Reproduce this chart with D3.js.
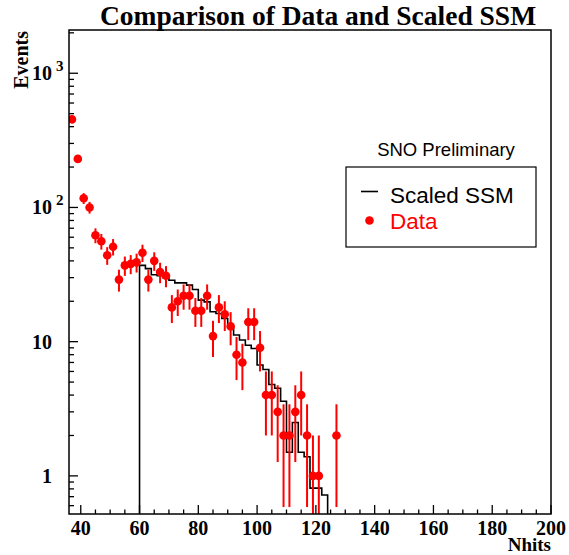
<!DOCTYPE html>
<html>
<head>
<meta charset="utf-8">
<script src="https://cdn.jsdelivr.net/npm/d3@7"></script>
<style>
  html, body { margin: 0; padding: 0; background: #fff; }
  svg { display: block; }
</style>
</head>
<body>
<svg id="chart" width="569" height="555"></svg>
<script>
// ---- data ----
const dataNhits = [37,39,41,43,45,47,49,51,53,55,57,59,61,63,65,67,69,71,73,75,77,79,81,83,85,87,89,91,93,95,97,99,101,103,105,107,109,111,113,115,117,119,121,127];
const dataEvents = [453,230,117,100,62,56,44,51,29,37,38,39,46,29,40,33,31,18,20,22,22,17,17,22,11,18,16,13,8,7,14,14,9,4,4,3,2,2,3,4,2,1,1,2];

const ssmBinLow = [60,62,64,66,68,70,72,74,76,78,80,82,84,86,88,90,92,94,96,98,100,102,104,106,108,110,112,114,116,118,120,122];
const ssmValues = [37,35,31.5,31,30,28.7,27.4,27.4,26.4,24.5,20.4,19.8,16.7,16.2,14.9,12.9,11.2,10.3,9.4,8.9,6.7,6.2,4.8,4.5,3.6,1.5,2.5,1.5,1.39,0.81,0.81,0.72];
const ssmBinWidth = 2;

const xMajorTicks = [40,60,80,100,120,140,160,180,200];
const yMajorTicks = [1,10,100,1000];
const yTickLabels = [{base:"1", exp:""},{base:"10", exp:""},{base:"10", exp:"2"},{base:"10", exp:"3"}];

const titleText = "Comparison of Data and Scaled SSM";
const xTitle = "Nhits";
const yTitle = "Events";
const legendHeader = "SNO Preliminary";
const legendEntries = ["Scaled SSM", "Data"];

// ---- layout ----
const frame = {left: 69, right: 551, top: 30, bottom: 514};
const svg = d3.select("#chart");
const serif = "'Liberation Serif','Times New Roman',serif";
const sans = "'Liberation Sans',Arial,sans-serif";

const x = d3.scaleLinear().domain([36, 200]).range([frame.left, frame.right]);
const y = d3.scaleLog().domain([0.52, 2100]).range([frame.bottom, frame.top]);

// title
svg.append("text").attr("x", 318).attr("y", 25)
  .attr("text-anchor", "middle").attr("font-family", serif)
  .attr("font-weight", "bold").attr("font-size", 27.5).text(titleText);

svg.append("defs").append("clipPath").attr("id", "clip")
  .append("rect").attr("x", frame.left).attr("y", frame.top)
  .attr("width", frame.right - frame.left).attr("height", frame.bottom - frame.top);

const plot = svg.append("g").attr("clip-path", "url(#clip)");

// SSM histogram (step outline)
const pts = [];
pts.push([x(ssmBinLow[0]), frame.bottom]);
ssmBinLow.forEach((lo, i) => {
  pts.push([x(lo), y(ssmValues[i])]);
  pts.push([x(lo + ssmBinWidth), y(ssmValues[i])]);
});
pts.push([x(ssmBinLow[ssmBinLow.length - 1] + ssmBinWidth), frame.bottom]);
plot.append("path").attr("d", d3.line()(pts))
  .attr("fill", "none").attr("stroke", "#000").attr("stroke-width", 1.6);

// data error bars and markers
const red = "#ff0000";
dataNhits.forEach((n, i) => {
  const v = dataEvents[i];
  const e = Math.sqrt(v);
  const lo = Math.max(v - e, 0.3);
  plot.append("line").attr("x1", x(n)).attr("x2", x(n))
    .attr("y1", y(lo)).attr("y2", y(v + e))
    .attr("stroke", red).attr("stroke-width", 2);
});
plot.selectAll("circle.pt").data(dataNhits).enter().append("circle")
  .attr("class", "pt")
  .attr("cx", d => x(d)).attr("cy", (d, i) => y(dataEvents[i]))
  .attr("r", 4.3).attr("fill", red);

// frame
svg.append("rect").attr("x", frame.left).attr("y", frame.top)
  .attr("width", frame.right - frame.left).attr("height", frame.bottom - frame.top)
  .attr("fill", "none").attr("stroke", "#000").attr("stroke-width", 1.5);

// x ticks
const xMinor = d3.range(40, 201, 5).filter(v => !xMajorTicks.includes(v));
const axG = svg.append("g").attr("stroke", "#000").attr("stroke-width", 1.3);
xMajorTicks.forEach(v => axG.append("line").attr("x1", x(v)).attr("x2", x(v)).attr("y1", frame.bottom).attr("y2", frame.bottom - 9));
xMinor.forEach(v => axG.append("line").attr("x1", x(v)).attr("x2", x(v)).attr("y1", frame.bottom).attr("y2", frame.bottom - 4.5));

xMajorTicks.forEach(v => {
  svg.append("text").attr("x", x(v)).attr("y", 535).attr("text-anchor", "middle")
    .attr("font-family", serif).attr("font-weight", "bold").attr("font-size", 20).text(v);
});

// y ticks
const [ylo, yhi] = y.domain();
const yMinor = [];
for (let p = -1; p <= 3; p++) for (let k = 2; k <= 9; k++) {
  const v = k * Math.pow(10, p);
  if (v >= ylo && v <= yhi) yMinor.push(v);
}
yMajorTicks.forEach(v => axG.append("line").attr("x1", frame.left).attr("x2", frame.left + 9).attr("y1", y(v)).attr("y2", y(v)));
yMinor.forEach(v => axG.append("line").attr("x1", frame.left).attr("x2", frame.left + 5).attr("y1", y(v)).attr("y2", y(v)));

yMajorTicks.forEach((v, i) => {
  const lab = yTickLabels[i];
  svg.append("text").attr("x", 52).attr("y", y(v) + 7).attr("text-anchor", "end")
    .attr("font-family", serif).attr("font-weight", "bold").attr("font-size", 20).text(lab.base);
  if (lab.exp) {
    svg.append("text").attr("x", 56).attr("y", y(v) - 2)
      .attr("font-family", serif).attr("font-weight", "bold").attr("font-size", 15).text(lab.exp);
  }
});

// axis titles
svg.append("text").attr("x", 551).attr("y", 550.5).attr("text-anchor", "end")
  .attr("font-family", serif).attr("font-weight", "bold").attr("font-size", 19).text(xTitle);
svg.append("text").attr("transform", "translate(28,31) rotate(-90)").attr("text-anchor", "end")
  .attr("font-family", serif).attr("font-weight", "bold").attr("font-size", 20).text(yTitle);

// legend
svg.append("text").attr("x", 446).attr("y", 156).attr("text-anchor", "middle")
  .attr("font-family", sans).attr("font-size", 18.5).text(legendHeader);
svg.append("rect").attr("x", 346).attr("y", 167).attr("width", 190).attr("height", 80)
  .attr("fill", "#fff").attr("stroke", "#000").attr("stroke-width", 1.2);
svg.append("line").attr("x1", 361).attr("x2", 378).attr("y1", 191.5).attr("y2", 191.5)
  .attr("stroke", "#000").attr("stroke-width", 1.6);
svg.append("text").attr("x", 390).attr("y", 202.5)
  .attr("font-family", sans).attr("font-size", 22.5).attr("fill", "#000").text(legendEntries[0]);
svg.append("circle").attr("cx", 369.5).attr("cy", 220.5).attr("r", 4.3).attr("fill", red);
svg.append("text").attr("x", 390).attr("y", 229)
  .attr("font-family", sans).attr("font-size", 22.5).attr("fill", red).text(legendEntries[1]);
</script>
</body>
</html>
